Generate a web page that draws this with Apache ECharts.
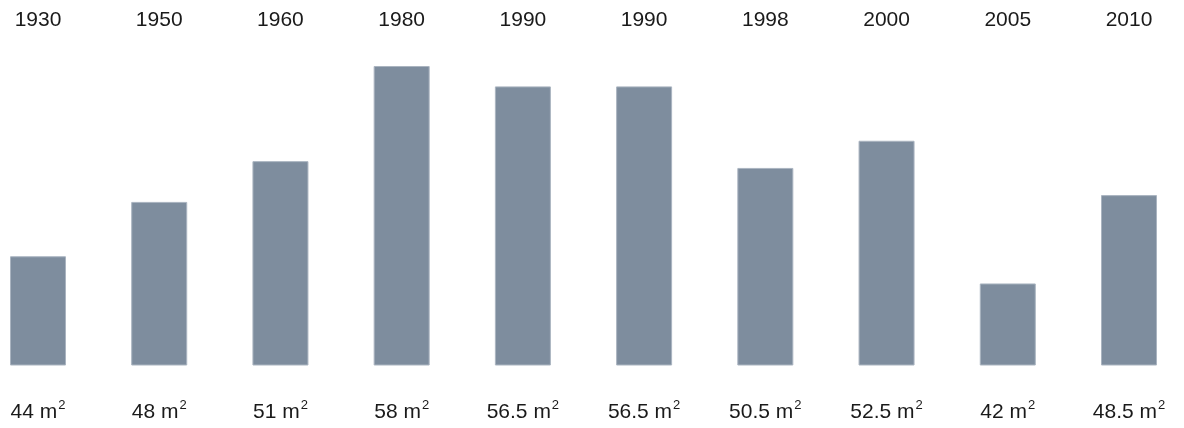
<!DOCTYPE html>
<html>
<head>
<meta charset="utf-8">
<script src="https://cdn.jsdelivr.net/npm/echarts@6/dist/echarts.min.js"></script>
<style>
  html, body { margin: 0; padding: 0; background: #ffffff; }
  #chart { width: 1184px; height: 428px; }
</style>
</head>
<body>
<div id="chart"></div>
<script>
// Average dwelling floor area (m²) by year
const years = ['1930', '1950', '1960', '1980', '1990', '1990', '1998', '2000', '2005', '2010'];
const areas = [44, 48, 51, 58, 56.5, 56.5, 50.5, 52.5, 42, 48.5];
const unit = 'm';

const chart = echarts.init(document.getElementById('chart'));

const labelFont = {
  fontFamily: '"Liberation Sans", Arial, sans-serif',
  fontSize: 21,
  color: '#1a1a1a'
};

chart.setOption({
  animation: false,
  backgroundColor: '#ffffff',
  grid: { left: 38, right: 55, top: 66, bottom: 63, containLabel: false },
  xAxis: [
    {
      type: 'category',
      position: 'top',
      data: years,
      boundaryGap: false,
      axisLine: { show: false },
      axisTick: { show: false },
      axisLabel: Object.assign({ margin: 35, interval: 0 }, labelFont)
    },
    {
      type: 'category',
      position: 'bottom',
      data: areas,
      boundaryGap: false,
      axisLine: { show: false },
      axisTick: { show: false },
      axisLabel: {
        interval: 0,
        margin: 34,
        formatter: v => `{n|${v} ${unit}}{s|2}`,
        rich: {
          n: Object.assign({ lineHeight: 24, verticalAlign: 'bottom' }, labelFont),
          s: {
            fontFamily: labelFont.fontFamily,
            fontSize: 13,
            color: '#1a1a1a',
            lineHeight: 24,
            verticalAlign: 'top',
            padding: [0, 0, 12, 1]
          }
        }
      }
    }
  ],
  yAxis: {
    type: 'value',
    min: 36,
    max: 58,
    show: false,
    splitLine: { show: false }
  },
  series: [{
    type: 'bar',
    xAxisIndex: 0,
    data: areas,
    barWidth: 56,
    itemStyle: {
      color: '#7e8d9e',
      borderColor: '#aab4c0',
      borderWidth: 1
    }
  }]
});
</script>
</body>
</html>
